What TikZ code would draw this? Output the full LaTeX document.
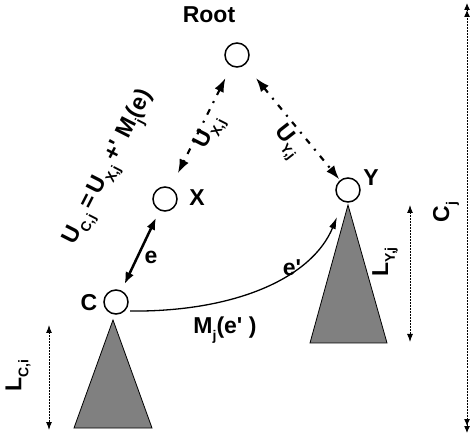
\documentclass[tikz,border=0pt]{standalone}
\usepackage{fontspec}
\setmainfont{Liberation Sans}
\usepackage{tikz}
\usetikzlibrary{arrows.meta,calc}
\newcommand{\subtx}[1]{\raisebox{-0.3em}{\fontsize{14}{14}\selectfont #1}}
\newcommand{\apos}{\textquotesingle}

\begin{document}
\begin{tikzpicture}[x=1pt,y=-1pt,
    vtx/.style={circle,draw,line width=1.5pt,minimum size=24pt,inner sep=0pt},
    lbl/.style={inner sep=0pt,font=\fontsize{23}{26}\selectfont\bfseries},
    tri/.style={draw,fill=black!50,line width=0.8pt},
    dashdot/.style={line width=2.2pt,dash pattern=on 6pt off 7pt on 2pt off 7pt,
      {Latex[length=14pt,width=10pt]}-{Latex[length=14pt,width=10pt]}},
    dim/.style={line width=1pt,dash pattern=on 2pt off 1pt,
      {Latex[length=8pt,width=6pt]}-{Latex[length=8pt,width=6pt]}}]
  \useasboundingbox (0,0) rectangle (474,438);
  % vertices
  \node[vtx] (root) at (237,55) {};
  \node[lbl] (rootlbl) at (209,15) {Root};
  \node[vtx] (x) at (165,199) {};
  \node[lbl] (xlbl) at (197,198) {X};
  \node[vtx] (c) at (116,302) {};
  \node[lbl] (clbl) at (89,303) {C};
  \node[vtx] (y) at (348,190) {};
  \node[lbl] (ylbl) at (371,178) {Y};
  % subtrees
  \draw[tri] (113,320) -- (152,428) -- (74,428) -- cycle;
  \draw[tri] (348,205) -- (387,343) -- (310,343) -- cycle;
  % edges to the root
  \draw[dashdot,shorten <=13pt,shorten >=16pt] (root) -- (x);
  \draw[dashdot,shorten <=17pt,shorten >=1pt] (root) -- (y);
  \draw[line width=2.5pt,{Latex[length=12pt,width=9pt]}-{Latex[length=12pt,width=9pt]},
    shorten <=8pt,shorten >=7pt] (x) -- (c);
  % cross edge
  \coordinate (ytip) at (337,217);
  \draw[line width=1.3pt,-{Latex[length=12pt,width=7pt]},shorten <=5pt]
    (c.south east) .. controls (235,312) and (312,278) .. (ytip);
  % edge labels
  \node[lbl,rotate=63] (uclbl) at (110,168) {U\subtx{C,j}\,=\,U\subtx{X,j}\,+\apos\ M\subtx{j}(e)};
  \node[lbl,rotate=63] (uxlbl) at (210,133) {U\subtx{X,j}};
  \node[lbl,rotate=-52] (uylbl) at (287,142) {U\subtx{Y,j}};
  \node[lbl] (elbl) at (151,257) {e};
  \node[lbl] (eplbl) at (292,268) {e\apos};
  \node[lbl] (mlbl) at (225,330) {M\subtx{j}(e\apos\ )};
  % heights
  \coordinate (lctop) at (49,325);
  \coordinate (lcbot) at (49,430);
  \draw[dim] (lctop) -- (lcbot);
  \node[lbl,rotate=90] (lclbl) at (18,376) {L\subtx{C,i}};
  \coordinate (lytop) at (410,205);
  \coordinate (lybot) at (410,342);
  \draw[dim] (lytop) -- (lybot);
  \node[lbl,rotate=90] (lylbl) at (385,262) {L\subtx{Y,j}};
  \coordinate (cjtop) at (467,3);
  \coordinate (cjbot) at (467,433);
  \draw[dim,arrows={Latex[length=7pt,width=6pt]Latex[length=7pt,width=6pt]}-{Latex[length=7pt,width=6pt]Latex[length=7pt,width=6pt]}]
    (cjtop) -- (cjbot);
  \node[lbl,rotate=90] (cjlbl) at (446,212) {C\subtx{j}};
\end{tikzpicture}
\end{document}
